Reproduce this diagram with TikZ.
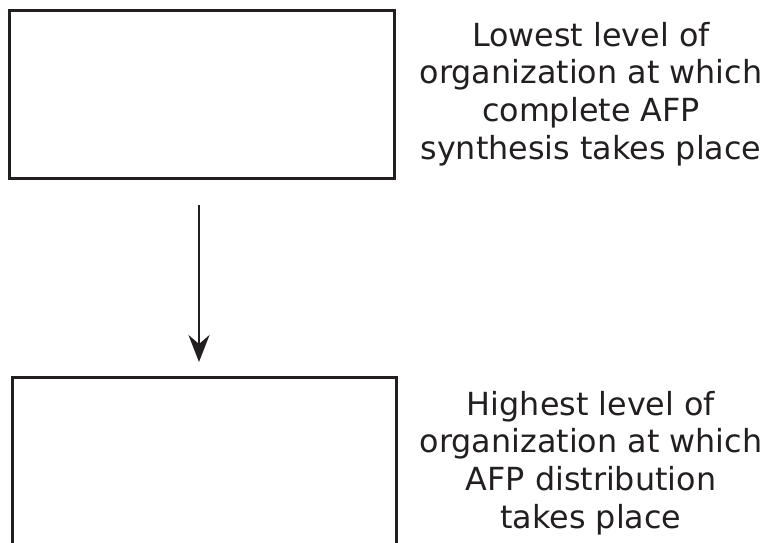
\documentclass[tikz,border=0pt]{standalone}
\usepackage{fontspec}
\setmainfont{DejaVu Sans}
\usetikzlibrary{arrows.meta}
\definecolor{ink}{HTML}{231F20}
\begin{document}
\begin{tikzpicture}[x=1pt,y=-1pt,
  box/.style={draw=ink,line width=3pt,minimum width=385pt,inner sep=0pt},
  label/.style={text=ink,align=center,font=\fontsize{31.8}{37.7}\selectfont,inner sep=0pt},
  conn/.style={draw=ink,line width=2.2pt,-{Stealth[length=27pt,width=21pt,inset=9pt]}}]
\useasboundingbox (0,0) rectangle (769,542);
\clip (0,0) rectangle (769,542);
\node[box,minimum height=168pt] (top) at (201.5,94) {};
\node[box,minimum width=384pt,minimum height=190pt] (bottom) at (204,472) {};
\node[label] (toptext) at (591,94) {Lowest level of\\organization at which\\complete AFP\\synthesis takes place};
\node[label] (bottomtext) at (591,463) {Highest level of\\organization at which\\AFP distribution\\takes place};
\coordinate (astart) at (199,205);
\coordinate (aend) at (199,362);
\draw[conn] (astart) -- (aend);
\end{tikzpicture}
\end{document}
